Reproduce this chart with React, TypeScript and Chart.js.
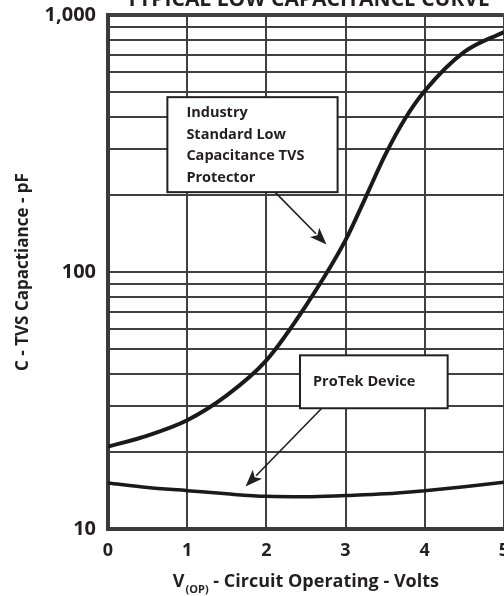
import React, { useEffect, useRef } from 'react';
import { Chart, registerables } from 'chart.js';

Chart.register(...registerables);

// ---- Data ----
const industryVolts = [0, 0.5, 1, 1.5, 2, 2.5, 3, 3.25, 3.5, 3.75, 4, 4.5, 5];
const industryPf = [20.9, 23.1, 26.5, 33.1, 45.3, 74, 133, 194, 285, 394, 506, 718, 859];

const protekVolts = [0, 0.5, 1, 1.5, 2, 2.5, 3, 3.5, 4, 4.5, 5];
const protekPf = [15.1, 14.5, 14.1, 13.7, 13.4, 13.35, 13.5, 13.7, 14.1, 14.6, 15.2];

const xTickValues = [0, 1, 2, 3, 4, 5];
const yGridValues = [10, 20, 30, 40, 50, 60, 70, 80, 90, 100, 200, 300, 400, 500, 600, 700, 800, 900, 1000];
const yMajorValues = [10, 100, 1000];
const yMajorLabels = ['10', '100', '1,000'];

const chartTitle = 'TYPICAL LOW CAPACITANCE CURVE';
const yAxisTitle = 'C - TVS Capactiance - pF';
const xAxisTitleMain = 'V';
const xAxisTitleSub = '(OP)';
const xAxisTitleRest = ' - Circuit Operating - Volts';

const industryLabelLines = ['Industry', 'Standard Low', 'Capacitance TVS', 'Protector'];
const protekLabelLines = ['ProTek Device'];

// annotation layout (in data coordinates of the chart's scales)
const callouts = [
  {
    lines: industryLabelLines,
    x0: 0.75, x1: 2.9, yTop: 479, yBottom: 204.5,
    padX: 19, firstBaseline: 20, lineGap: 21.5,
    from: [2.11, 204.5], to: [2.76, 128],
  },
  {
    lines: protekLabelLines,
    x0: 2.425, x1: 4.29, yTop: 47.4, yBottom: 29.5,
    padX: 13, firstBaseline: 31, lineGap: 21.5,
    from: [2.7, 29.5], to: [1.7375, 14.64],
  },
];

const FONT = "'Open Sans', 'DejaVu Sans', sans-serif";
const INK = '#231f20';
const GRID = '#404040';

const decorPlugin = {
  id: 'decor',
  afterDatasetsDraw(chart: any) {
    const { ctx, chartArea, scales } = chart;
    const xs = scales.x;
    const ys = scales.y;
    ctx.save();
    // callouts
    for (const c of callouts) {
      const left = xs.getPixelForValue(c.x0);
      const right = xs.getPixelForValue(c.x1);
      const top = ys.getPixelForValue(c.yTop);
      const bottom = ys.getPixelForValue(c.yBottom);
      // arrow
      const fx = xs.getPixelForValue(c.from[0]);
      const fy = ys.getPixelForValue(c.from[1]);
      const tx = xs.getPixelForValue(c.to[0]);
      const ty = ys.getPixelForValue(c.to[1]);
      const dx = tx - fx;
      const dy = ty - fy;
      const len = Math.sqrt(dx * dx + dy * dy);
      const ux = dx / len;
      const uy = dy / len;
      const headL = 17;
      const headW = 6.5;
      const bx = tx - ux * headL;
      const by = ty - uy * headL;
      ctx.strokeStyle = INK;
      ctx.lineWidth = 1.6;
      ctx.beginPath();
      ctx.moveTo(fx, fy);
      ctx.lineTo(bx + ux * 2, by + uy * 2);
      ctx.stroke();
      ctx.fillStyle = INK;
      ctx.beginPath();
      ctx.moveTo(tx, ty);
      ctx.lineTo(bx - uy * headW, by + ux * headW);
      ctx.lineTo(bx + ux * 4, by + uy * 4);
      ctx.lineTo(bx + uy * headW, by - ux * headW);
      ctx.closePath();
      ctx.fill();
      // box
      ctx.fillStyle = '#ffffff';
      ctx.fillRect(left, top, right - left, bottom - top);
      ctx.lineWidth = 2;
      ctx.strokeStyle = INK;
      ctx.strokeRect(left, top, right - left, bottom - top);
      ctx.fillStyle = INK;
      ctx.font = `bold 14.5px ${FONT}`;
      ctx.textAlign = 'left';
      ctx.textBaseline = 'alphabetic';
      c.lines.forEach((line, i) => {
        ctx.fillText(line, left + c.padX, top + c.firstBaseline + i * c.lineGap);
      });
    }
    ctx.restore();
  },
  afterDraw(chart: any) {
    const { ctx, chartArea } = chart;
    const cx = (chartArea.left + chartArea.right) / 2;
    ctx.save();
    ctx.fillStyle = INK;
    ctx.textBaseline = 'alphabetic';
    // chart title
    ctx.font = `bold 21px ${FONT}`;
    ctx.textAlign = 'center';
    ctx.fillText(chartTitle, cx + 2, chartArea.top - 9);
    // x axis title with subscript
    ctx.textAlign = 'left';
    const mainFont = `bold 18px ${FONT}`;
    const subFont = `bold 11px ${FONT}`;
    ctx.font = mainFont;
    const wV = ctx.measureText(xAxisTitleMain).width;
    const wRest = ctx.measureText(xAxisTitleRest).width;
    ctx.font = subFont;
    const wSub = ctx.measureText(xAxisTitleSub).width;
    const total = wV + 1 + wSub + wRest;
    let x = cx - total / 2;
    const base = chartArea.bottom + 58;
    ctx.font = mainFont;
    ctx.fillText(xAxisTitleMain, x, base);
    x += wV + 1;
    ctx.font = subFont;
    ctx.fillText(xAxisTitleSub, x, base + 6);
    x += wSub;
    ctx.font = mainFont;
    ctx.fillText(xAxisTitleRest, x, base);
    ctx.restore();
  },
};

export default function App() {
  const canvasRef = useRef<HTMLCanvasElement | null>(null);

  useEffect(() => {
    if (!canvasRef.current) return;
    const chart = new Chart(canvasRef.current, {
      type: 'line',
      data: {
        datasets: [
          {
            label: 'Industry Standard Low Capacitance TVS Protector',
            data: industryVolts.map((v, i) => ({ x: v, y: industryPf[i] })),
            borderColor: '#1a1a1a',
            borderWidth: 4,
            pointRadius: 0,
            cubicInterpolationMode: 'monotone',
            fill: false,
          },
          {
            label: 'ProTek Device',
            data: protekVolts.map((v, i) => ({ x: v, y: protekPf[i] })),
            borderColor: '#1a1a1a',
            borderWidth: 3.5,
            pointRadius: 0,
            cubicInterpolationMode: 'monotone',
            fill: false,
          },
        ],
      },
      options: {
        responsive: false,
        animation: false,
        devicePixelRatio: window.devicePixelRatio || 1,
        layout: { padding: { top: 55, right: 13, bottom: 0, left: 0 } },
        plugins: {
          legend: { display: false },
          title: { display: false },
          tooltip: { enabled: false },
        },
        scales: {
          x: {
            type: 'linear',
            min: 0,
            max: 5,
            afterBuildTicks: (scale: any) => {
              scale.ticks = xTickValues.map((v) => ({ value: v }));
            },
            afterFit: (scale: any) => {
              scale.height = 67;
            },
            ticks: {
              padding: 11,
              color: INK,
              font: { family: FONT, size: 18, weight: 'bold' },
              callback: (v: any) => String(v),
              autoSkip: false,
              maxRotation: 0,
            },
            grid: { color: GRID, lineWidth: 2, drawTicks: false },
            border: { display: true, color: '#3a3a3a', width: 4 },
          },
          y: {
            type: 'logarithmic',
            min: 10,
            max: 1000,
            afterBuildTicks: (scale: any) => {
              scale.ticks = yGridValues.map((v) => ({ value: v, major: yMajorValues.includes(v) }));
            },
            afterFit: (scale: any) => {
              scale.width = 108;
            },
            ticks: {
              padding: 12,
              color: INK,
              autoSkip: false,
              font: { family: FONT, size: 20, weight: 'bold' },
              callback: (v: any) => {
                const idx = yMajorValues.indexOf(Number(v));
                return idx >= 0 ? yMajorLabels[idx] : '';
              },
            },
            grid: {
              color: GRID,
              drawTicks: false,
              lineWidth: (ctx: any) => (ctx.tick && ctx.tick.value === 1000 ? 4 : 2),
            },
            border: { display: true, color: '#3a3a3a', width: 4 },
            title: {
              display: true,
              text: yAxisTitle,
              color: INK,
              font: { family: FONT, size: 17, weight: 'bold' },
              padding: { top: 13, bottom: 0 },
            },
          },
        },
      },
      plugins: [decorPlugin],
    } as any);
    return () => chart.destroy();
  }, []);

  return (
    <div
      style={{
        position: 'fixed',
        left: 0,
        top: 0,
        width: 504,
        height: 596,
        overflow: 'hidden',
        background: '#ffffff',
      }}
    >
      <div style={{ position: 'absolute', left: 0, top: -40, width: 520, height: 636 }}>
        <canvas ref={canvasRef} width={520} height={636} style={{ width: 520, height: 636 }} />
      </div>
    </div>
  );
}
